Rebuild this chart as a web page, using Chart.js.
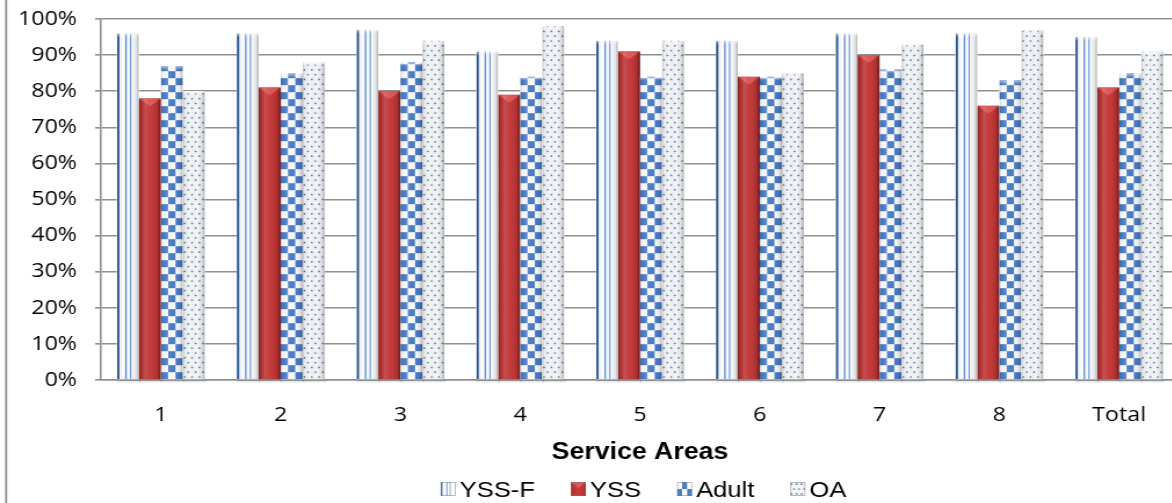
<!DOCTYPE html>
<html>
<head>
<meta charset="utf-8">
<script src="https://cdn.jsdelivr.net/npm/chart.js@4.4.1/dist/chart.umd.min.js"></script>
<style>
  html, body { margin: 0; padding: 0; background: #fff; overflow: hidden; width: 1172px; height: 503px; }
  #wrap { width: 1022px; height: 503px; transform: scaleX(1.16); transform-origin: 0 0; }
</style>
</head>
<body>
<div id="wrap"><canvas id="chart" width="1022" height="503"></canvas></div>
<script>
// Satisfaction by service area (percent)
const categories = ['1', '2', '3', '4', '5', '6', '7', '8', 'Total'];
const yssF  = [96, 96, 97, 91, 94, 94, 96, 96, 95];
const yss   = [78, 81, 80, 79, 91, 84, 90, 76, 81];
const adult = [87, 85, 88, 84, 84, 84, 86, 83, 85];
const oa    = [80, 88, 94, 98, 94, 85, 93, 97, 91];
const seriesNames = ['YSS-F', 'YSS', 'Adult', 'OA'];
const yTicks = [0, 10, 20, 30, 40, 50, 60, 70, 80, 90, 100];

const GRID = '#8f8f8f';
const BLUE = '#4b7ec8';
const kinds = ['stripes', 'red', 'checks', 'dots'];

// Soft cylinder-like shading across a bar
function shade(ctx, l, t, w, h) {
  const g = ctx.createLinearGradient(l, 0, l + w, 0);
  g.addColorStop(0, 'rgba(0,0,0,0.22)');
  g.addColorStop(0.1, 'rgba(0,0,0,0.04)');
  g.addColorStop(0.3, 'rgba(255,255,255,0.12)');
  g.addColorStop(0.65, 'rgba(0,0,0,0)');
  g.addColorStop(0.88, 'rgba(0,0,0,0.1)');
  g.addColorStop(1, 'rgba(0,0,0,0.32)');
  ctx.fillStyle = g;
  ctx.fillRect(l, t, w, h);
}

function texture(ctx, kind, l, t, w, h, base, bevel) {
  ctx.save();
  ctx.beginPath();
  ctx.rect(l, t, w, h);
  ctx.clip();
  if (kind === 'stripes') {
    ctx.fillStyle = '#fdfeff';
    ctx.fillRect(l, t, w, h);
    ctx.fillStyle = '#5b8dd6';
    ctx.fillRect(l + 0.38 * w, t, 0.07 * w, h);
    ctx.fillStyle = '#6a98dc';
    ctx.fillRect(l + 0.6 * w, t, 0.06 * w, h);
    ctx.fillStyle = '#2f5e9f';
    ctx.fillRect(l + 0.02 * w, t, 0.1 * w, h);
  } else if (kind === 'red') {
    const g = ctx.createLinearGradient(l, 0, l + w, 0);
    g.addColorStop(0, '#a02c2c');
    g.addColorStop(0.2, '#bd3737');
    g.addColorStop(0.5, '#c93c3c');
    g.addColorStop(0.85, '#ba3535');
    g.addColorStop(1, '#922525');
    ctx.fillStyle = g;
    ctx.fillRect(l, t, w, h);
    if (bevel) {
      const d = Math.min(8, h);
      ctx.fillStyle = '#e05959';
      ctx.beginPath();
      ctx.moveTo(l, t);
      ctx.lineTo(l + w, t);
      ctx.lineTo(l + w / 2, t + d);
      ctx.closePath();
      ctx.fill();
    }
  } else if (kind === 'checks') {
    ctx.fillStyle = '#ffffff';
    ctx.fillRect(l, t, w, h);
    const cw = w / 3, ch = 7;
    ctx.fillStyle = BLUE;
    const ref = bevel ? base : t + h;
    for (let r = 0; ref - r * ch > t - ch; r++) {
      for (let c = 0; c < 3; c++) {
        if ((r + c) % 2 === 0) ctx.fillRect(l + c * cw, ref - (r + 1) * ch, cw, ch);
      }
    }
  } else {
    ctx.fillStyle = '#f3f6fa';
    ctx.fillRect(l, t, w, h);
    ctx.fillStyle = '#66768e';
    const ref = bevel ? base : t + h;
    const step = w / 3;
    for (let r = 0; ref - r * 4.8 > t; r++) {
      const yy = ref - 2.2 - r * 4.8;
      const off = (r % 2) ? step / 2 : 0;
      for (let xx = l + step / 4 + off; xx < l + w; xx += step) {
        ctx.beginPath();
        ctx.arc(xx, yy, 0.85, 0, Math.PI * 2);
        ctx.fill();
      }
    }
  }
  if (bevel) {
    shade(ctx, l, t, w, h);
    if (kind !== 'red') {
      const g = ctx.createLinearGradient(0, t, 0, t + 4);
      g.addColorStop(0, 'rgba(255,255,255,0.55)');
      g.addColorStop(1, 'rgba(255,255,255,0)');
      ctx.fillStyle = g;
      ctx.fillRect(l, t, w, 4);
    }
  }
  ctx.restore();
}

const barLook = {
  id: 'barLook',
  afterDatasetsDraw(chart) {
    const ctx = chart.ctx;
    chart.data.datasets.forEach((ds, i) => {
      const meta = chart.getDatasetMeta(i);
      meta.data.forEach(el => {
        const { x, y, base, width } = el.getProps(['x', 'y', 'base', 'width'], true);
        const l = x - width / 2;
        // soft shadow under the bar foot
        const sg = ctx.createLinearGradient(0, base, 0, base + 4);
        sg.addColorStop(0, 'rgba(0,0,0,0.22)');
        sg.addColorStop(1, 'rgba(0,0,0,0)');
        ctx.fillStyle = sg;
        ctx.fillRect(l, base + 0.8, width + 1.5, 4);
        texture(ctx, kinds[i], l, y, width, base - y, base, true);
      });
    });
  }
};

const frameAndLegend = {
  id: 'frameAndLegend',
  afterDraw(chart) {
    const ctx = chart.ctx;
    ctx.save();
    // outer chart frame (left edge)
    ctx.strokeStyle = '#8a8a8a';
    ctx.lineWidth = 1.7;
    ctx.beginPath();
    ctx.moveTo(5.3, 0);
    ctx.lineTo(5.3, chart.height);
    ctx.stroke();

    // legend
    ctx.font = '22px "Liberation Sans", Arial, sans-serif';
    const box = 13, gapText = 3.5, gapItem = 31;
    const widths = seriesNames.map(n => ctx.measureText(n).width);
    const total = widths.reduce((a, w) => a + box + gapText + w, 0) + gapItem * (seriesNames.length - 1);
    const cx = (chart.chartArea.left + chart.chartArea.right) / 2 + 3;
    let x = cx - total / 2;
    const top = 482, bh = 14, baseline = 496.5;
    seriesNames.forEach((n, i) => {
      texture(ctx, kinds[i], x, top, box, bh, top + bh, false);
      if (kinds[i] === 'red') {
        ctx.fillStyle = '#e05959';
        ctx.beginPath();
        ctx.moveTo(x, top); ctx.lineTo(x + box, top); ctx.lineTo(x + box / 2, top + 6);
        ctx.closePath(); ctx.fill();
      }
      ctx.strokeStyle = 'rgba(120,120,120,0.6)';
      ctx.lineWidth = 0.8;
      ctx.strokeRect(x + 0.4, top + 0.4, box - 0.8, bh - 0.8);
      ctx.fillStyle = '#000';
      ctx.textBaseline = 'alphabetic';
      ctx.textAlign = 'left';
      ctx.fillText(n, x + box + gapText, baseline);
      x += box + gapText + widths[i] + gapItem;
    });
    ctx.restore();
  }
};

new Chart(document.getElementById('chart'), {
  type: 'bar',
  data: {
    labels: categories,
    datasets: [
      { label: seriesNames[0], data: yssF,  backgroundColor: '#ffffff' },
      { label: seriesNames[1], data: yss,   backgroundColor: '#c23a3a' },
      { label: seriesNames[2], data: adult, backgroundColor: '#ffffff' },
      { label: seriesNames[3], data: oa,    backgroundColor: '#f3f6fa' }
    ]
  },
  options: {
    responsive: false,
    animation: false,
    devicePixelRatio: 1,
    layout: { padding: { left: 0, right: 5.6, top: 19, bottom: 36.7 } },
    datasets: { bar: { categoryPercentage: 0.735, barPercentage: 1.0, borderWidth: 0 } },
    plugins: { legend: { display: false }, tooltip: { enabled: false } },
    scales: {
      x: {
        grid: { display: false, drawTicks: false },
        border: { display: true, color: GRID, width: 1.6 },
        ticks: { color: '#000', padding: 23, font: { family: '"Open Sans", sans-serif', size: 20 } },
        title: {
          display: true, text: 'Service Areas', color: '#000',
          padding: { top: 0, bottom: 0 },
          font: { family: '"Liberation Sans", Arial, sans-serif', size: 23, weight: 'bold', lineHeight: 1.2 }
        },
        afterFit(scale) {
          scale.height = 86.3;
          scale.paddingLeft = 0;
          scale.paddingRight = 0;
        }
      },
      y: {
        min: 0, max: 100,
        grid: { color: GRID, lineWidth: 1.6, tickLength: 5, drawTicks: true },
        border: { display: true, color: GRID, width: 1.6 },
        ticks: {
          color: '#000', padding: 15.6,
          font: { family: '"Open Sans", sans-serif', size: 20 },
          callback: v => v + '%'
        },
        afterBuildTicks(scale) { scale.ticks = yTicks.map(v => ({ value: v })); },
        afterFit(scale) {
          scale.width = 87;
          scale.paddingTop = 0;
          scale.paddingBottom = 0;
        }
      }
    }
  },
  plugins: [barLook, frameAndLegend]
});
</script>
</body>
</html>
